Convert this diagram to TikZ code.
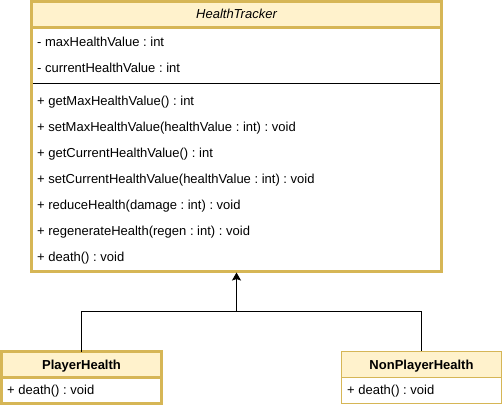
\documentclass[tikz,border=0pt]{standalone}
\usepackage{fontspec}
\setmainfont{Liberation Sans}
\usetikzlibrary{arrows.meta}
\definecolor{boxFill}{HTML}{FFF2CC}
\definecolor{boxLine}{HTML}{D6B656}
\frenchspacing

\begin{document}
\begin{tikzpicture}[x=1pt, y=-1pt,
    member/.style={anchor=base west, inner sep=0pt, font=\fontsize{13}{15}\selectfont},
    title/.style={anchor=base, inner sep=0pt, font=\fontsize{13}{15}\selectfont},
    classbox/.style={draw=boxLine, anchor=north west, inner sep=0pt, outer sep=0pt},
    link/.style={line width=1pt},
    ]
    \useasboundingbox (0,0) rectangle (503,407);

    % HealthTracker
    \fill [boxFill] (31.5,1.5) rectangle (441.5,27.5);
    \node [classbox, line width=3pt, minimum width=410pt, minimum height=269.5pt] (tracker) at (31.5,1.5) {};
    \draw [boxLine, line width=3pt] (31.5,27.5) -- (441.5,27.5);
    \draw (33,83) -- (440,83);
    \node [title, font=\fontsize{13}{15}\selectfont\itshape] (trackerName) at (236.5,18.5) {HealthTracker};

    \node [member] (maxValue) at (37,46) {- maxHealthValue : int};
    \node [member] (curValue) at (37,72) {- currentHealthValue : int};

    \node [member] (getMax) at (37,105) {+ getMaxHealthValue() : int};
    \node [member] (setMax) at (37,131) {+ setMaxHealthValue(healthValue : int) : void};
    \node [member] (getCur) at (37,157) {+ getCurrentHealthValue() : int};
    \node [member] (setCur) at (37,183) {+ setCurrentHealthValue(healthValue : int) : void};
    \node [member] (reduce) at (37,209) {+ reduceHealth(damage : int) : void};
    \node [member] (regen) at (37,235) {+ regenerateHealth(regen : int) : void};
    \node [member] (death) at (37,261) {+ death() : void};

    % PlayerHealth
    \fill [boxFill] (1.5,351.5) rectangle (161.5,377);
    \node [classbox, line width=3pt, minimum width=160pt, minimum height=51.5pt] (player) at (1.5,351.5) {};
    \draw [boxLine, line width=3pt] (1.5,377) -- (161.5,377);
    \node [title, font=\fontsize{13}{15}\selectfont\bfseries] (playerName) at (81.5,369) {PlayerHealth};
    \node [member] (playerDeath) at (7,394) {+ death() : void};

    % NonPlayerHealth
    \fill [boxFill] (341.5,351) rectangle (501.5,377);
    \node [classbox, line width=1pt, minimum width=160pt, minimum height=52pt] (npc) at (341.5,351) {};
    \draw [boxLine, line width=1pt] (341.5,377) -- (501.5,377);
    \node [title, font=\fontsize{13}{15}\selectfont\bfseries] (npcName) at (421.5,369) {NonPlayerHealth};
    \node [member] (npcDeath) at (347,394) {+ death() : void};

    % inheritance
    \coordinate (split) at (236.5,311);
    \draw [link] (player.north) |- (split);
    \draw [link] (npc.north) |- (split);
    \draw [link, shorten >=1.5pt, -{Stealth[length=8pt, width=9pt, inset=1.5pt]}] (split) -- (tracker.south);
\end{tikzpicture}
\end{document}
